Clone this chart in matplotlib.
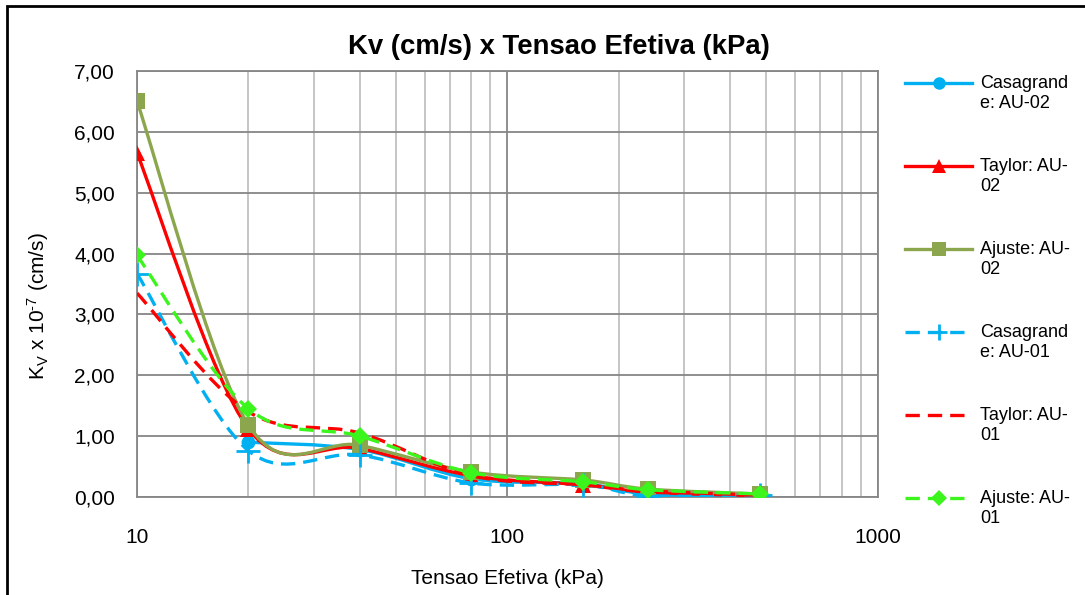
import numpy as np
import matplotlib
matplotlib.use("Agg")
import matplotlib.pyplot as plt
from matplotlib.path import Path
from matplotlib.patches import PathPatch, Rectangle
from matplotlib.lines import Line2D
from matplotlib.legend_handler import HandlerLine2D
from matplotlib.ticker import FuncFormatter, NullFormatter

plt.rcParams["font.family"] = ["Liberation Sans", "DejaVu Sans"]
plt.rcParams["mathtext.fontset"] = "custom"
plt.rcParams["mathtext.rm"] = "Liberation Sans"
plt.rcParams["mathtext.it"] = "Liberation Sans:italic"

# tensao efetiva (kPa) and Kv x 1e-7 (cm/s)
tensao = [10, 20, 40, 80, 160, 240, 480]
tensao_cas02 = [20, 40, 80, 160, 240, 480]
cas_au02 = [0.90, 0.78, 0.30, 0.22, 0.05, 0.02]
tay_au02 = [5.65, 1.12, 0.80, 0.35, 0.20, 0.08, 0.02]
aju_au02 = [6.50, 1.18, 0.85, 0.41, 0.28, 0.13, 0.05]
cas_au01 = [3.67, 0.76, 0.69, 0.23, 0.20, 0.02, 0.04]
tay_au01 = [3.35, 1.40, 1.05, 0.35, 0.20, 0.10, 0.03]
aju_au01 = [3.97, 1.45, 1.00, 0.40, 0.25, 0.12, 0.05]

labels = ["Casagrand\ne: AU-02", "Taylor: AU-\n02", "Ajuste: AU-\n02",
          "Casagrand\ne: AU-01", "Taylor: AU-\n01", "Ajuste: AU-\n01"]

BLUE, RED, OLIVE, GREEN = "#00B0F0", "#FF0000", "#8CA64E", "#3CF51C"
DASH = (0, (4.3, 2.4))

# (x, y, colour, linestyle, marker, marker size in plot, marker size in legend)
series = [
    (tensao_cas02, cas_au02, BLUE, "-", "o", 10, 9),
    (tensao, tay_au02, RED, "-", "^", 11, 10),
    (tensao, aju_au02, OLIVE, "-", "s", 11, 10),
    (tensao, cas_au01, BLUE, DASH, "+", 17, 12),
    (tensao, tay_au01, RED, DASH, "None", 0, 0),
    (tensao, aju_au01, GREEN, DASH, "D", 9, 8),
]


def smooth_path(xs, ys):
    """Excel-like smoothed line: Catmull-Rom bezier in (log x, y) space."""
    u = np.log10(xs)
    y = np.asarray(ys, float)
    pts = np.column_stack([u, y])
    n = len(pts)
    verts = [pts[0]]
    codes = [Path.MOVETO]
    for i in range(n - 1):
        p0 = pts[max(i - 1, 0)]
        p1 = pts[i]
        p2 = pts[i + 1]
        p3 = pts[min(i + 2, n - 1)]
        c1 = p1 + (p2 - p0) / 6.0
        c2 = p2 - (p3 - p1) / 6.0
        verts += [c1, c2, p2]
        codes += [Path.CURVE4] * 3
    verts = np.array(verts)
    verts[:, 0] = 10 ** verts[:, 0]
    return Path(verts, codes)


class HandlerFirstLine(HandlerLine2D):
    """Put the legend line level with the first line of a two-line label."""
    def create_artists(self, legend, orig_handle, xdescent, ydescent, width, height,
                       fontsize, trans):
        arts = super().create_artists(legend, orig_handle, xdescent, ydescent, width,
                                      height, fontsize, trans)
        for a in arts:
            a.set_ydata(np.asarray(a.get_ydata()) + 0.6 * fontsize)
        return arts


fig = plt.figure(figsize=(10.85, 5.95), dpi=100)
ax = fig.add_axes([0.1263, 0.1647, 0.6825, 0.716])

handles = []
for z, (xs, ys, col, ls, mk, ms, lms) in enumerate(series):
    ax.add_patch(PathPatch(smooth_path(xs, ys), facecolor="none", edgecolor=col,
                           lw=2.4, linestyle=ls, zorder=3 + z, capstyle="butt"))
    if mk != "None":
        ax.plot(xs, ys, linestyle="none", marker=mk, ms=ms, color=col,
                mew=2 if mk == "+" else 0, zorder=3.5 + z)
    handles.append(Line2D([], [], color=col, lw=2.4, linestyle=ls, marker=mk, ms=lms,
                          mew=2 if mk == "+" else 0))

ax.set_xscale("log")
ax.set_xlim(10, 1000)
ax.set_ylim(0, 7)
ax.set_yticks(np.arange(0, 8, 1))
ax.yaxis.set_major_formatter(FuncFormatter(lambda v, p: f"{v:.2f}".replace(".", ",")))
ax.xaxis.set_major_formatter(FuncFormatter(lambda v, p: f"{v:g}"))
ax.xaxis.set_minor_formatter(NullFormatter())
ax.tick_params(which="both", length=0, labelsize=15)
ax.tick_params(axis="y", pad=16)
ax.tick_params(axis="x", pad=22)
ax.grid(True, which="major", color="#868686", lw=1.3)
ax.grid(True, which="minor", axis="x", color="#C0C0C0", lw=1.3)
ax.set_axisbelow(True)
for sp in ax.spines.values():
    sp.set_color("#868686")
    sp.set_linewidth(1.3)

ax.set_xlabel("Tensao Efetiva (kPa)", fontsize=15, labelpad=16)
fig.text(38 / 1085, 1 - 306 / 595, "K$_\\mathrm{V}$ x 10$^{\\text{-7}}$ (cm/s)",
         fontsize=15, rotation=90, ha="center", va="center")
fig.text(559 / 1085, 1 - 47 / 595, "Kv (cm/s) x Tensao Efetiva (kPa)", fontsize=19.8,
         fontweight="bold", ha="center", va="center")

fig.legend(handles, labels, loc="upper left", bbox_to_anchor=(0.826, 0.889),
           frameon=False, fontsize=13, handlelength=3.7, handletextpad=0.45,
           labelspacing=2.57, borderpad=0,
           handler_map={Line2D: HandlerFirstLine(numpoints=1)})

fig.add_artist(Rectangle((7 / 1085, -0.1), 1.2, 1.1 - 6 / 595, transform=fig.transFigure,
                         fill=False, edgecolor="black", lw=2, clip_on=False))

fig.savefig("out.png", dpi=100)
